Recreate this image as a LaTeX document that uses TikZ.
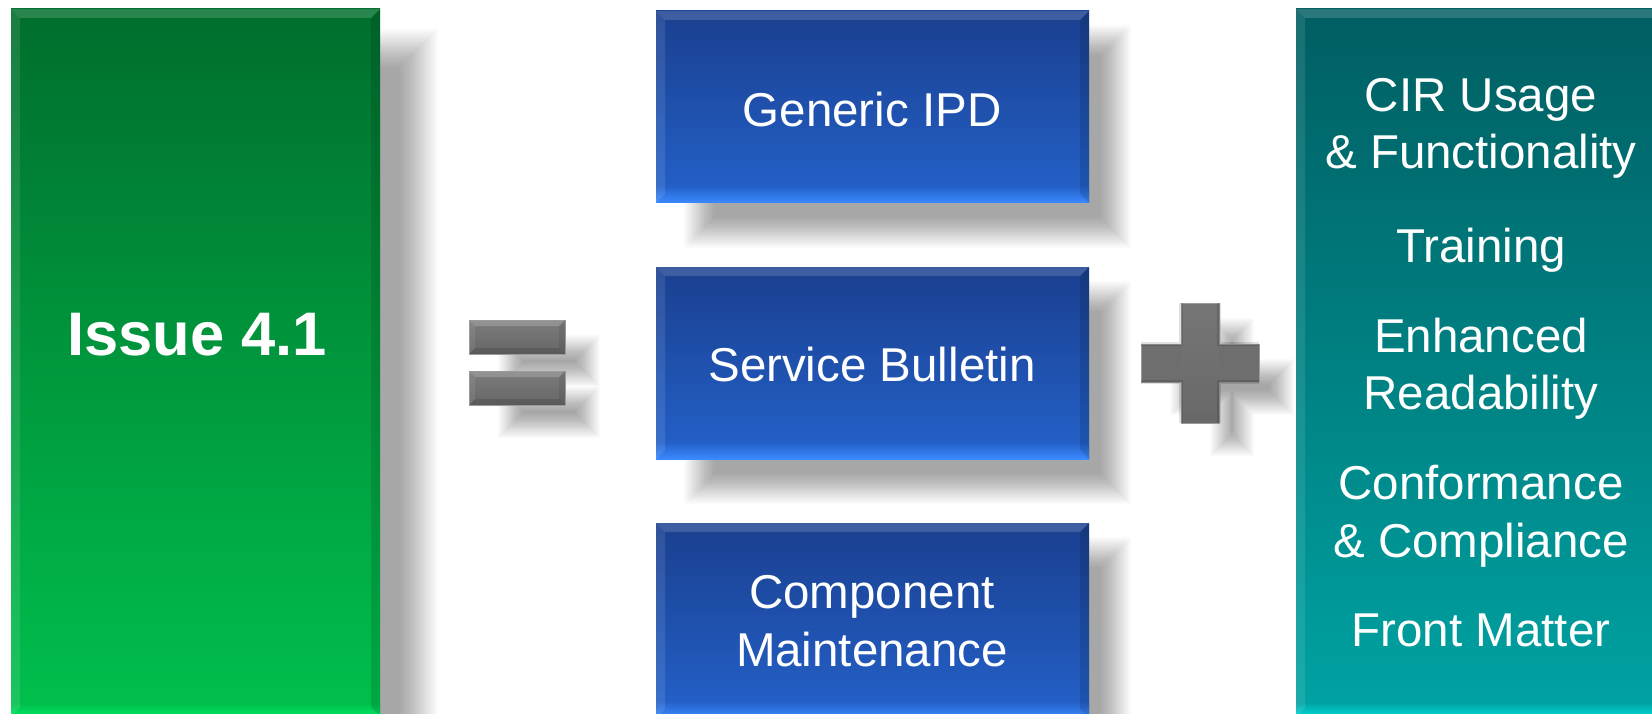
\documentclass[tikz,border=0pt]{standalone}
\usepackage{fontspec}
\setmainfont{Liberation Sans}
\usetikzlibrary{calc}
\pgfdeclarelayer{backg}
\pgfdeclarelayer{shad}
\pgfsetlayers{backg,shad,main}

\definecolor{gT}{HTML}{006E2D}
\definecolor{gB}{HTML}{00C04D}
\definecolor{gE}{HTML}{00E562}
\definecolor{bT}{HTML}{1A3F8F}
\definecolor{bB}{HTML}{2462CA}
\definecolor{bE}{HTML}{3A8AFF}
\definecolor{tT}{HTML}{005E62}
\definecolor{tB}{HTML}{00A3A3}
\definecolor{tE}{HTML}{00DADA}
\definecolor{gry1}{HTML}{7C7C7C}
\definecolor{gry2}{HTML}{666666}
\definecolor{gryF}{HTML}{6E6E6E}
\definecolor{gryE}{HTML}{9A9A9A}

% #1 nodes, #2 left shift, #3 top shift, #4 right shift, #5 bottom shift, #6 blur
\newcommand\castshadow[6]{%
 \begin{pgfonlayer}{shad}
 \foreach \k in {0,...,23}{%
  \begin{scope}[transparency group, opacity=0.015]
   \foreach \nd in {#1}{%
    \fill[black] ($(\nd.north west)+({#2-#6+\k*#6/12},{#3-#6+\k*#6/12})$) rectangle
                 ($(\nd.south east)+({#4+#6-\k*#6/12},{#5+#6-\k*#6/12})$);
   }
  \end{scope}
 }
 \end{pgfonlayer}}

\tikzset{
  panel/.style n args={4}{rectangle, inner sep=0pt, outer sep=0pt, anchor=north west, draw=none,
    top color=#1, bottom color=#2,
    path picture={
      \path (path picture bounding box.north west) coordinate (pNW)
            (path picture bounding box.north east) coordinate (pNE)
            (path picture bounding box.south west) coordinate (pSW)
            (path picture bounding box.south east) coordinate (pSE);
      \shade[top color=#2, bottom color=#3] ($(pSW)+(0pt,#4)$) rectangle (pSE);
      \fill[white, fill opacity=.16] (pNW) -- (pNE) -- ($(pNE)+(-9pt,-9pt)$) -- ($(pNW)+(9pt,-9pt)$) -- cycle;
      \fill[white, fill opacity=.10] (pNW) -- ($(pNW)+(9pt,-9pt)$) -- ($(pSW)+(9pt,9pt)$) -- (pSW) -- cycle;
      \fill[black, fill opacity=.12] (pNE) -- ($(pNE)+(-9pt,-9pt)$) -- ($(pSE)+(-9pt,9pt)$) -- (pSE) -- cycle;
    }},
  bar/.style={rectangle, inner sep=0pt, outer sep=0pt, anchor=north west,
    top color=gry1, bottom color=gry2, draw=gryE, line width=0.6pt,
    path picture={
      \path (path picture bounding box.north west) coordinate (pNW)
            (path picture bounding box.north east) coordinate (pNE)
            (path picture bounding box.south west) coordinate (pSW)
            (path picture bounding box.south east) coordinate (pSE);
      \fill[white, fill opacity=.18] (pNW) -- (pNE) -- ($(pNE)+(-6pt,-6pt)$) -- ($(pNW)+(6pt,-6pt)$) -- cycle;
      \fill[black, fill opacity=.12] (pSW) -- (pSE) -- ($(pSE)+(-6pt,6pt)$) -- ($(pSW)+(6pt,6pt)$) -- cycle;
      \fill[white, fill opacity=.08] (pNW) -- ($(pNW)+(6pt,-6pt)$) -- ($(pSW)+(6pt,6pt)$) -- (pSW) -- cycle;
      \fill[black, fill opacity=.08] (pNE) -- ($(pNE)+(-6pt,-6pt)$) -- ($(pSE)+(-6pt,6pt)$) -- (pSE) -- cycle;
    }},
  plusarm/.style={rectangle, inner sep=0pt, outer sep=0pt, anchor=north west, fill=gryF, draw=none},
  lbl/.style={text=white, inner sep=0pt, anchor=base, font=\fontsize{47.5pt}{57pt}\selectfont},
  biglbl/.style={text=white, inner sep=0pt, anchor=base, font=\fontsize{61.5pt}{70pt}\selectfont\bfseries},
}

\begin{document}
\begin{tikzpicture}[x=1pt,y=-1pt]
\useasboundingbox (0,0) rectangle (1652,714);
\begin{pgfonlayer}{backg}
  \fill[white] (0,0) rectangle (1652,714);
\end{pgfonlayer}

% panels
\node[panel={gT}{gB}{gE}{12pt}, minimum width=369pt, minimum height=707pt] (issue) at (11,9) {};
\node[panel={bT}{bB}{bE}{16pt}, minimum width=433pt, minimum height=192pt] (ipd) at (656,11) {};
\node[panel={bT}{bB}{bE}{16pt}, minimum width=433pt, minimum height=192pt] (sb) at (656,267) {};
\node[panel={bT}{bB}{bE}{16pt}, minimum width=433pt, minimum height=195pt] (cm) at (656,523) {};
\node[panel={tT}{tB}{tE}{14pt}, minimum width=370pt, minimum height=708pt] (extra) at (1296,9) {};

% equals sign
\node[bar, minimum width=96pt, minimum height=34pt] (eqa) at (469,320) {};
\node[bar, minimum width=96pt, minimum height=34pt] (eqb) at (469,371) {};

% plus sign
\node[plusarm, minimum width=118pt, minimum height=38pt] (plh) at (1141,344) {};
\node[plusarm, minimum width=38pt, minimum height=120pt] (plv) at (1181,303) {};
\shade[top color=gry1, bottom color=gry2, fill opacity=0.6] (plv.north west) rectangle (plv.south east);
\draw[gryE, line width=0.8pt, line join=miter]
  (plv.north west) -- (plv.north east) -- (plv.east |- plh.north) -- (plh.north east)
  -- (plh.south east) -- (plv.east |- plh.south) -- (plv.south east) -- (plv.south west)
  -- (plv.west |- plh.south) -- (plh.south west) -- (plh.north west) -- (plv.west |- plh.north) -- cycle;
\draw[black, opacity=0.12, line width=4pt]
  (plv.north west) -- (plv.west |- plh.north) -- (plh.north west)
  (plv.north east) -- (plv.east |- plh.north) -- (plh.north east)
  (plv.south west) -- (plv.west |- plh.south) -- (plh.south west)
  (plv.south east) -- (plv.east |- plh.south) -- (plh.south east);

% shadows
\castshadow{issue}{40}{40}{38}{30}{20}
\castshadow{ipd}{44}{30}{26}{29}{16}
\castshadow{sb}{44}{30}{26}{29}{16}
\castshadow{cm}{44}{30}{26}{29}{16}
\castshadow{eqa,eqb}{42}{28}{22}{20}{13}
\castshadow{plh,plv}{42}{28}{22}{20}{13}

% texts
\node[biglbl] (tIssue) at (197,355) {Issue 4.1};
\node[lbl] (tIpd) at (872,127) {Generic IPD};
\node[lbl] (tSb) at (872,381) {Service Bulletin};
\node[lbl] (tCm1) at (872,608) {Component};
\node[lbl] (tCm2) at (872,666) {Maintenance};

\node[lbl] (x1) at (1481,112) {CIR Usage};
\node[lbl] (x2) at (1481,169) {\& Functionality};
\node[lbl] (x3) at (1481,262) {Training};
\node[lbl] (x4) at (1481,352) {Enhanced};
\node[lbl] (x5) at (1481,409) {Readability};
\node[lbl] (x6) at (1481,499) {Conformance};
\node[lbl] (x7) at (1481,557) {\& Compliance};
\node[lbl] (x8) at (1481,646) {Front Matter};
\end{tikzpicture}
\end{document}
